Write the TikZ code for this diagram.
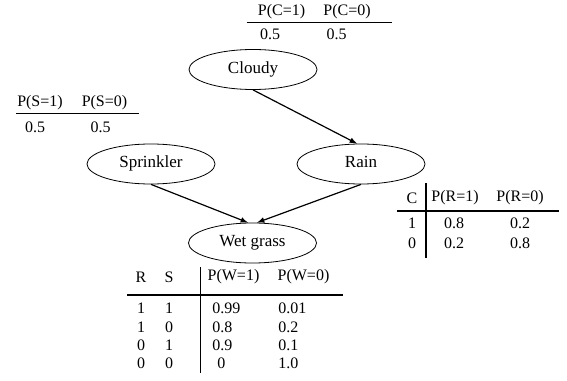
\documentclass[tikz,border=0pt]{standalone}
\usepackage{fontspec}
\setmainfont{Liberation Serif}
\usepackage{tikz}
\usetikzlibrary{shapes.geometric,arrows}
\tikzset{var/.style={ellipse, draw, line width=0.6pt, minimum width=96pt, minimum height=30pt, inner sep=0pt, text height=1.55ex, text depth=0.3ex, font=\fontsize{12.75}{14}\selectfont}}
\tikzset{cell/.style={inner sep=0pt, font=\fontsize{12}{14}\selectfont}}
\tikzset{rule/.style={line width=0.8pt}}
\tikzset{arc/.style={-latex, line width=0.9pt}}

\begin{document}
\begin{tikzpicture}[x=0.75pt,y=-0.75pt]
  \useasboundingbox (0,0) rectangle (567,381);
  \node (cloudy) at (253,69.5)[var]{Cloudy};
  \node (sprinkler) at (151,164)[var]{Sprinkler};
  \node (rain) at (361,164)[var]{Rain};
  \node (wet) at (252.5,243)[var]{Wet grass};

  % P(C)
  \node (pc1) at (281.5,11.7)[cell]{P(C=1)};
  \node (pc0) at (347,11.7)[cell]{P(C=0)};
  \draw[rule] (246.7,22.7) -- (391.7,22.7);
  \node (vc1) at (270,34.7)[cell]{0.5};
  \node (vc0) at (336.5,34.7)[cell]{0.5};

  % P(S)
  \node (ps1) at (40,102.5)[cell]{P(S=1)};
  \node (ps0) at (104.5,102.5)[cell]{P(S=0)};
  \draw[rule] (16,113.3) -- (139,113.3);
  \node (vs1) at (35,127)[cell]{0.5};
  \node (vs0) at (100.5,127)[cell]{0.5};

  % P(R|C)
  \node (rc) at (412,198)[cell]{C};
  \node (pr1) at (455,198)[cell]{P(R=1)};
  \node (pr0) at (520,198)[cell]{P(R=0)};
  \draw[rule] (426,183) -- (426,258);
  \draw[rule] (397,211) -- (559,211);
  \node (rc1) at (412,223)[cell]{1};
  \node (r11) at (454,223)[cell]{0.8};
  \node (r10) at (520,223)[cell]{0.2};
  \node (rc0) at (412,243)[cell]{0};
  \node (r01) at (454,243)[cell]{0.2};
  \node (r00) at (520,243)[cell]{0.8};

  % P(W|R,S)
  \node (wr) at (141,277)[cell]{R};
  \node (ws) at (169,277)[cell]{S};
  \node (pw1) at (233.5,277)[cell]{P(W=1)};
  \node (pw0) at (303.5,277)[cell]{P(W=0)};
  \draw[rule] (200.7,267) -- (200.7,373);
  \draw[rule] (127,295) -- (343,295);
  \node (wr1) at (141,308)[cell]{1};
  \node (ws1) at (169,308)[cell]{1};
  \node (w11) at (212,308)[cell, anchor=west]{0.99};
  \node (w10) at (278,308)[cell, anchor=west]{0.01};
  \node (wr2) at (141,327)[cell]{1};
  \node (ws2) at (169,327)[cell]{0};
  \node (w21) at (212,327)[cell, anchor=west]{0.8};
  \node (w20) at (278,327)[cell, anchor=west]{0.2};
  \node (wr3) at (141,345)[cell]{0};
  \node (ws3) at (169,345)[cell]{1};
  \node (w31) at (212,345)[cell, anchor=west]{0.9};
  \node (w30) at (278,345)[cell, anchor=west]{0.1};
  \node (wr4) at (141,363)[cell]{0};
  \node (ws4) at (169,363)[cell]{0};
  \node (w41) at (217,363)[cell, anchor=west]{0};
  \node (w40) at (278,363)[cell, anchor=west]{1.0};

  \draw[arc] (cloudy.south) -- ([xshift=-3pt]rain.north);
  \draw[arc] (sprinkler.south) -- ([xshift=-3.4pt]wet.north);
  \draw[arc] (rain.south) -- ([xshift=3.4pt]wet.north);
\end{tikzpicture}
\end{document}
